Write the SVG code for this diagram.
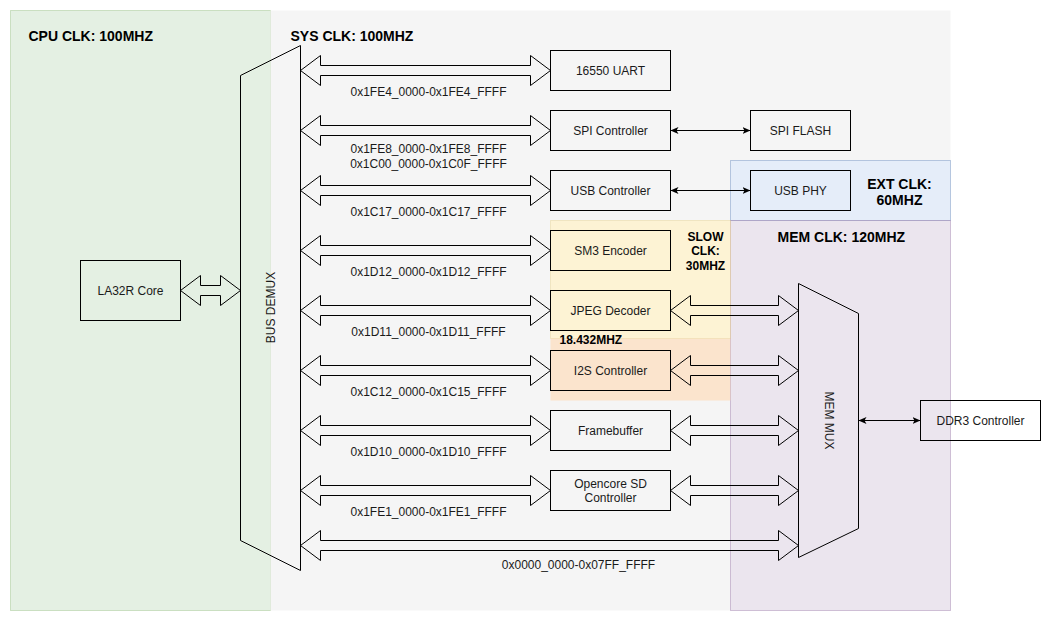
<svg xmlns="http://www.w3.org/2000/svg" width="1051" height="621" viewBox="0 0 1051 621">
<defs>
<style>
.box{fill:none;stroke:#000;stroke-width:1}
.fa{fill:none;stroke:#000;stroke-width:1;stroke-linejoin:miter}
.t{font-family:"Liberation Sans",Arial,sans-serif;font-size:12px;fill:#1a1a1a;dominant-baseline:central}
.c{text-anchor:middle}
.b{font-family:"Liberation Sans",Arial,sans-serif;font-weight:bold;font-size:14px;fill:#000;dominant-baseline:central}
.bs{font-size:12px}
.ln{fill:none;stroke:#000;stroke-width:1;marker-start:url(#cls);marker-end:url(#cls)}
</style>
<marker id="cls" viewBox="0 0 8 8" refX="8" refY="4" markerWidth="8" markerHeight="8" markerUnits="userSpaceOnUse" orient="auto-start-reverse">
<path d="M0,0.5 L8,4 L0,7.5 L2,4 Z" fill="#000"/>
</marker>
</defs>
<rect width="1051" height="621" fill="#fff"/>
<g transform="translate(0.5,0.5)">
<g id="regions">
<g id="cpu-clk">
<rect x="10" y="10" width="260" height="600" fill="#d5e8d4" fill-opacity="0.65" stroke="#82b366" stroke-opacity="0.35"/>
<text class="b" x="28" y="35">CPU CLK: 100MHZ</text>
</g>
<g id="sys-clk">
<rect x="270" y="10" width="680" height="600" fill="#f5f5f5"/>
<text class="b" x="290" y="35">SYS CLK: 100MHZ</text>
</g>
<g id="ext-clk">
<rect x="730" y="160" width="220" height="60" fill="#dae8fc" fill-opacity="0.6" stroke="#6c8ebf" stroke-opacity="0.45"/>
<text class="b c" x="899" y="183">EXT CLK:</text>
<text class="b c" x="899" y="199">60MHZ</text>
</g>
<g id="mem-clk">
<rect x="730" y="220" width="220" height="390" fill="#e1d5e7" fill-opacity="0.5" stroke="#9673a6" stroke-opacity="0.4"/>
<text class="b" x="777" y="236">MEM CLK: 120MHZ</text>
</g>
<g id="slow-clk">
<rect x="550" y="220" width="180" height="118" fill="#fff2cc" fill-opacity="0.8" stroke="#d6b656" stroke-opacity="0.25"/>
<text class="b bs c" x="705" y="236">SLOW</text>
<text class="b bs c" x="705" y="250.5">CLK:</text>
<text class="b bs c" x="705" y="265">30MHZ</text>
</g>
<g id="i2s-clk">
<rect x="550" y="338" width="180" height="62" fill="#ffd9b3" fill-opacity="0.6"/>
<text class="b bs" x="559" y="339">18.432MHZ</text>
</g>
</g>

<g id="connectors">
<path class="fa" d="M180,290 L200,275 L200,285 L220,285 L220,275 L240,290 L220,305 L220,295 L200,295 L200,305 Z"/>
<path class="fa" d="M300,70 L320,55 L320,65 L530,65 L530,55 L550,70 L530,85 L530,75 L320,75 L320,85 Z"/>
<path class="fa" d="M300,130 L320,115 L320,125 L530,125 L530,115 L550,130 L530,145 L530,135 L320,135 L320,145 Z"/>
<path class="fa" d="M300,190 L320,175 L320,185 L530,185 L530,175 L550,190 L530,205 L530,195 L320,195 L320,205 Z"/>
<path class="fa" d="M300,250 L320,235 L320,245 L530,245 L530,235 L550,250 L530,265 L530,255 L320,255 L320,265 Z"/>
<path class="fa" d="M300,310 L320,295 L320,305 L530,305 L530,295 L550,310 L530,325 L530,315 L320,315 L320,325 Z"/>
<path class="fa" d="M300,370 L320,355 L320,365 L530,365 L530,355 L550,370 L530,385 L530,375 L320,375 L320,385 Z"/>
<path class="fa" d="M300,430 L320,415 L320,425 L530,425 L530,415 L550,430 L530,445 L530,435 L320,435 L320,445 Z"/>
<path class="fa" d="M300,490 L320,475 L320,485 L530,485 L530,475 L550,490 L530,505 L530,495 L320,495 L320,505 Z"/>
<path class="fa" d="M300,545 L320,530 L320,540 L778,540 L778,530 L798,545 L778,560 L778,550 L320,550 L320,560 Z"/>
<path class="fa" d="M670,310 L690,295 L690,305 L778,305 L778,295 L798,310 L778,325 L778,315 L690,315 L690,325 Z"/>
<path class="fa" d="M670,370 L690,355 L690,365 L778,365 L778,355 L798,370 L778,385 L778,375 L690,375 L690,385 Z"/>
<path class="fa" d="M670,430 L690,415 L690,425 L778,425 L778,415 L798,430 L778,445 L778,435 L690,435 L690,445 Z"/>
<path class="fa" d="M670,490 L690,475 L690,485 L778,485 L778,475 L798,490 L778,505 L778,495 L690,495 L690,505 Z"/>
<line class="ln" x1="670" y1="130" x2="750" y2="130"/>
<line class="ln" x1="670" y1="190" x2="750" y2="190"/>
<line class="ln" x1="858" y1="420" x2="920" y2="420"/>
<text class="t c" x="428" y="91">0x1FE4_0000-0x1FE4_FFFF</text>
<text class="t c" x="428" y="148">0x1FE8_0000-0x1FE8_FFFF</text>
<text class="t c" x="428" y="163">0x1C00_0000-0x1C0F_FFFF</text>
<text class="t c" x="428" y="211">0x1C17_0000-0x1C17_FFFF</text>
<text class="t c" x="428" y="271">0x1D12_0000-0x1D12_FFFF</text>
<text class="t c" x="428" y="331">0x1D11_0000-0x1D11_FFFF</text>
<text class="t c" x="428" y="391">0x1C12_0000-0x1C15_FFFF</text>
<text class="t c" x="428" y="451">0x1D10_0000-0x1D10_FFFF</text>
<text class="t c" x="428" y="511">0x1FE1_0000-0x1FE1_FFFF</text>
<text class="t c" x="578" y="564">0x0000_0000-0x07FF_FFFF</text>
</g>

<g id="la32r-core"><rect class="box" x="80" y="260" width="100" height="60"/><text class="t c" x="130" y="290">LA32R Core</text></g>
<g id="bus-demux"><path class="box" d="M240,75 L300,45 L300,570 L240,540 Z"/><text class="t c" transform="translate(270,307) rotate(-90)" x="0" y="0">BUS DEMUX</text></g>
<g id="uart"><rect class="box" x="550" y="50" width="120" height="40"/><text class="t c" x="610" y="70">16550 UART</text></g>
<g id="spi-controller"><rect class="box" x="550" y="110" width="120" height="40"/><text class="t c" x="610" y="130">SPI Controller</text></g>
<g id="spi-flash"><rect class="box" x="750" y="110" width="100" height="40"/><text class="t c" x="800" y="130">SPI FLASH</text></g>
<g id="usb-controller"><rect class="box" x="550" y="170" width="120" height="40"/><text class="t c" x="610" y="190">USB Controller</text></g>
<g id="usb-phy"><rect class="box" x="750" y="170" width="100" height="40"/><text class="t c" x="800" y="190">USB PHY</text></g>
<g id="sm3-encoder"><rect class="box" x="550" y="230" width="120" height="40"/><text class="t c" x="610" y="250">SM3 Encoder</text></g>
<g id="jpeg-decoder"><rect class="box" x="550" y="290" width="120" height="40"/><text class="t c" x="610" y="310">JPEG Decoder</text></g>
<g id="i2s-controller"><rect class="box" x="550" y="350" width="120" height="40"/><text class="t c" x="610" y="370">I2S Controller</text></g>
<g id="framebuffer"><rect class="box" x="550" y="410" width="120" height="40"/><text class="t c" x="610" y="430">Framebuffer</text></g>
<g id="sd-controller"><rect class="box" x="550" y="470" width="120" height="40"/><text class="t c" x="610" y="483">Opencore SD</text><text class="t c" x="610" y="497">Controller</text></g>
<g id="mem-mux"><path class="box" d="M798,283 L858,313 L858,528 L798,557 Z"/><text class="t c" transform="translate(828,420) rotate(90)" x="0" y="0">MEM MUX</text></g>
<g id="ddr3-controller"><rect class="box" x="920" y="400" width="120" height="40"/><text class="t c" x="980" y="420">DDR3 Controller</text></g>
</g>
</svg>
